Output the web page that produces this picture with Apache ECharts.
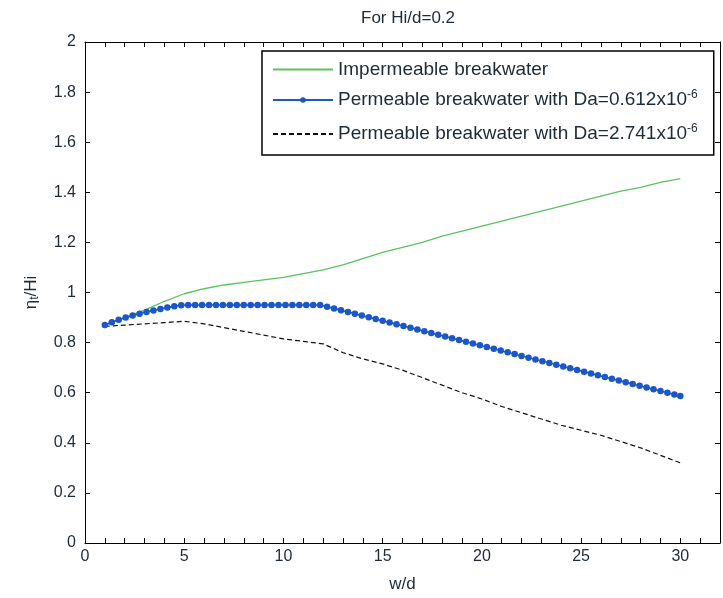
<!DOCTYPE html>
<html><head><meta charset="utf-8">
<script src="https://cdn.jsdelivr.net/npm/echarts@6/dist/echarts.min.js"></script>
<style>html,body{margin:0;padding:0;background:#fff}#c{width:723px;height:598px}</style>
</head><body><div id="c"></div>
<script>
const titleText = 'For Hi/d=0.2';
const xName = 'w/d';
const legendMain = ['Impermeable breakwater', 'Permeable breakwater with Da=0.612x10', 'Permeable breakwater with Da=2.741x10'];
const legendSup = ['', '-6', '-6'];

const xCoarse = [1,2,3,4,5,6,7,8,9,10,11,12,13,14,15,16,17,18,19,20,21,22,23,24,25,26,27,28,29,30];
const impermeable = [0.870,0.900,0.930,0.965,0.995,1.015,1.030,1.040,1.050,1.060,1.075,1.090,1.110,1.135,1.160,1.180,1.200,1.225,1.245,1.265,1.285,1.305,1.325,1.345,1.365,1.385,1.405,1.420,1.440,1.455];
const permeable2741 = [0.865,0.870,0.875,0.880,0.885,0.875,0.860,0.845,0.830,0.815,0.805,0.795,0.760,0.735,0.715,0.690,0.660,0.630,0.600,0.575,0.545,0.520,0.495,0.470,0.450,0.430,0.405,0.380,0.350,0.320];

const xFine = [1.0,1.35,1.7,2.05,2.4,2.75,3.1,3.45,3.8,4.15,4.5,4.85,5.2,5.55,5.9,6.25,6.6,6.95,7.3,7.65,8.0,8.35,8.7,9.05,9.4,9.75,10.1,10.45,10.8,11.15,11.5,11.85,12.2,12.55,12.9,13.25,13.6,13.95,14.3,14.65,15.0,15.35,15.7,16.05,16.4,16.75,17.1,17.45,17.8,18.15,18.5,18.85,19.2,19.55,19.9,20.25,20.6,20.95,21.3,21.65,22.0,22.35,22.7,23.05,23.4,23.75,24.1,24.45,24.8,25.15,25.5,25.85,26.2,26.55,26.9,27.25,27.6,27.95,28.3,28.65,29.0,29.35,29.7,30.0];
const permeable612 = [0.870,0.881,0.891,0.900,0.908,0.915,0.922,0.928,0.934,0.940,0.945,0.949,0.950,0.950,0.950,0.950,0.950,0.950,0.950,0.950,0.950,0.950,0.950,0.950,0.950,0.950,0.950,0.950,0.950,0.950,0.950,0.950,0.943,0.936,0.929,0.922,0.915,0.908,0.901,0.894,0.887,0.880,0.873,0.866,0.859,0.852,0.845,0.838,0.831,0.824,0.817,0.810,0.803,0.796,0.789,0.782,0.775,0.768,0.761,0.754,0.747,0.740,0.733,0.726,0.719,0.712,0.705,0.698,0.691,0.684,0.677,0.670,0.663,0.656,0.649,0.642,0.635,0.628,0.621,0.614,0.607,0.600,0.593,0.587];

const FONT = 'Arial, "Liberation Sans", sans-serif';
const TXT = '#1e2a36';
const zip = (xs, ys) => xs.map((x, i) => [x, ys[i]]);

const chart = echarts.init(document.getElementById('c'), null, {renderer: 'canvas'});
const axisCommon = {
  axisLine: {show: true, onZero: false, lineStyle: {color: '#000', width: 1}},
  axisTick: {show: true, inside: true, length: 5, lineStyle: {color: '#000'}},
  splitLine: {show: false}
};
chart.setOption({
  animation: false,
  backgroundColor: '#fff',
  title: {text: titleText, left: 403, top: 5, textAlign: 'center',
    textStyle: {fontFamily: FONT, fontSize: 17, fontWeight: 'normal', color: TXT}},
  grid: {left: 85, top: 42, width: 637, height: 507},
  legend: {
    orient: 'vertical', left: 262, top: 51,
    backgroundColor: '#fff', borderColor: '#000', borderWidth: 1.5,
    padding: [9, 16, 8, 10], itemGap: 10, itemWidth: 60, itemHeight: 7,
    data: [
      {name: legendMain[0], itemStyle: {opacity: 0}},
      {name: legendMain[1]},
      {name: legendMain[2], itemStyle: {opacity: 0}}
    ],
    formatter: function (name) {
      const i = legendMain.indexOf(name);
      return legendSup[i] ? '{t|' + name + '}{s|' + legendSup[i] + '}' : '{t|' + name + '}';
    },
    textStyle: {fontFamily: FONT, fontSize: 19, color: TXT,
      rich: {t: {fontFamily: FONT, fontSize: 19, color: TXT, lineHeight: 22},
             s: {fontFamily: FONT, fontSize: 12, color: TXT, verticalAlign: 'top', lineHeight: 22, padding: [0, 0, 12, 0]}}}
  },
  xAxis: [
    Object.assign({type: 'value', min: 0, max: 32, interval: 1, position: 'bottom',
      name: xName, nameLocation: 'middle', nameGap: 33,
      nameTextStyle: {fontFamily: FONT, fontSize: 17, color: TXT},
      axisLabel: {fontFamily: FONT, fontSize: 16, color: TXT, margin: 6,
        formatter: v => (v % 5 === 0 && v <= 30) ? String(v) : ''}}, axisCommon),
    Object.assign({type: 'value', min: 0, max: 32, interval: 1, position: 'top',
      axisLabel: {show: false}}, axisCommon)
  ],
  yAxis: [
    Object.assign({type: 'value', min: 0, max: 2, interval: 0.2, position: 'left',
      name: '{a|η}{b|t}{a|/Hi}', nameLocation: 'middle', nameGap: 44, nameRotate: 90,
      nameTextStyle: {fontFamily: FONT, fontSize: 17, color: TXT,
        rich: {a: {fontFamily: FONT, fontSize: 17, color: TXT},
               b: {fontFamily: FONT, fontSize: 12, color: TXT, verticalAlign: 'bottom', padding: [7, 0, 0, 0]}}},
      axisLabel: {fontFamily: FONT, fontSize: 16, color: TXT, margin: 9}}, axisCommon),
    Object.assign({type: 'value', min: 0, max: 2, interval: 0.2, position: 'right',
      axisLabel: {show: false}}, axisCommon)
  ],
  series: [
    {name: legendMain[0], type: 'line', data: zip(xCoarse, impermeable), showSymbol: false, symbol: 'none',
      lineStyle: {color: '#5cc25c', width: 1.3}, itemStyle: {color: '#5cc25c'}},
    {name: legendMain[1], type: 'line', data: zip(xFine, permeable612), symbol: 'circle', symbolSize: 6.5, showAllSymbol: true,
      lineStyle: {color: '#1b57c9', width: 1.5}, itemStyle: {color: '#1b57c9'}},
    {name: legendMain[2], type: 'line', data: zip(xCoarse, permeable2741), showSymbol: false, symbol: 'none',
      lineStyle: {color: '#111', width: 1.2, type: [5, 3]}, itemStyle: {color: '#111'}}
  ]
});
</script></body></html>
